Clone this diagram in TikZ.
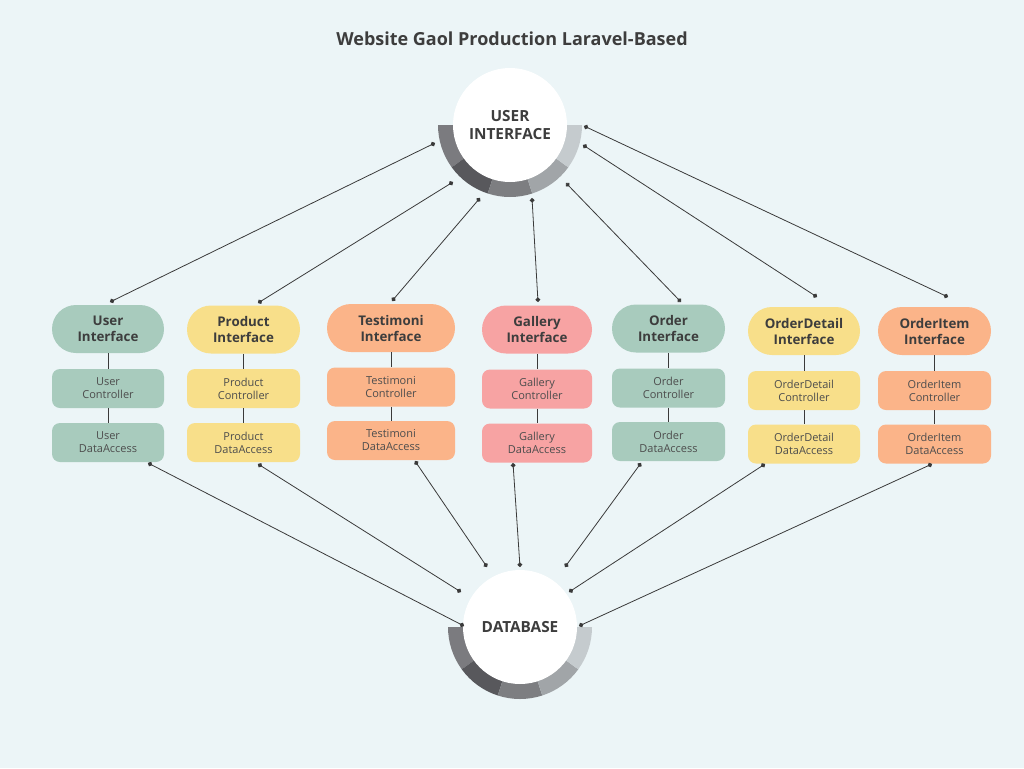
\documentclass[tikz,border=0pt]{standalone}
\usepackage{fontspec}
\setmainfont{Open Sans}
\usetikzlibrary{arrows.meta}
\definecolor{bg}{HTML}{ECF5F7}
\definecolor{txt}{HTML}{3D3D3D}
\definecolor{txtl}{HTML}{4D4D4D}
\definecolor{lc}{HTML}{3A3A3A}
\definecolor{grn}{HTML}{A8CBBD}
\definecolor{yel}{HTML}{F8DF8A}
\definecolor{org}{HTML}{FBB489}
\definecolor{pnk}{HTML}{F7A3A3}
\definecolor{ra}{HTML}{7B7B7F}
\definecolor{rb}{HTML}{58585C}
\definecolor{rc}{HTML}{7D7E81}
\definecolor{rd}{HTML}{A1A5A8}
\definecolor{re}{HTML}{C5CBCE}
\tikzset{
  iface/.style={rectangle, rounded corners=18pt, minimum height=36pt, inner sep=0pt,
    align=center, text=txt, font=\bfseries\fontsize{10}{12}\selectfont},
  layerbox/.style={rectangle, rounded corners=6pt, minimum height=29.25pt, inner sep=0pt,
    align=center, text=txtl, font=\fontsize{8.25}{9.75}\selectfont},
  hub/.style={circle, fill=white, minimum size=85.5pt, inner sep=0pt, align=center,
    text=txt, font=\bfseries\fontsize{11.5}{13.5}\selectfont},
  conn/.style={draw=lc, line width=0.6pt, arrows={Circle[length=3.5pt]-Circle[length=3.5pt]}},
  vlink/.style={draw=lc, line width=0.7pt}
}
\begin{document}
\begin{tikzpicture}[x=0.75pt,y=-0.75pt]
\fill[bg] (0,0) rectangle (1024,768);
\useasboundingbox (0,0) rectangle (1024,768);

\node[font=\bfseries\fontsize{13.5}{16}\selectfont, text=txt] (title) at (512,39) {Website Gaol Production Laravel-Based};

% rings
\foreach \cx/\cy in {510/125, 520/627}{
  \foreach \a/\b/\c in {144/180/ra, 108/144/rb, 72/108/rc, 36/72/rd, 0/36/re}{
    \fill[\c] (\cx,\cy) -- ++(\a:72) arc[start angle=\a, end angle=\b, radius=72] -- cycle;
  }
}
\node[hub] (ui) at (510,125) {USER\\INTERFACE};
\node[hub] (db) at (520,627) {DATABASE};

% columns
\foreach \n/\x/\yi/\yc/\yd/\w/\c/\lab in {
  user/108/329/388.5/442.5/112/grn/User,
  product/243.5/329.5/388.5/442.5/113/yel/Product,
  testi/391/328/387/440.5/128/org/Testimoni,
  gallery/537/329.5/389/443/110/pnk/Gallery,
  order/668.5/328.5/388/441.5/113/grn/Order,
  odetail/804/331/390.5/444/112/yel/OrderDetail,
  oitem/934.5/331/390.5/444/113/org/OrderItem}{
  \node[iface, fill=\c, minimum width=\w*0.75pt] (\n-i) at (\x,\yi) {\lab\\Interface};
  \node[layerbox, fill=\c, minimum width=\w*0.75pt] (\n-c) at (\x,\yc) {\lab\\Controller};
  \node[layerbox, fill=\c, minimum width=\w*0.75pt] (\n-d) at (\x,\yd) {\lab\\DataAccess};
  \draw[vlink] (\n-i.south) -- (\n-c.north);
  \draw[vlink] (\n-c.south) -- (\n-d.north);
}

% connector end points
\foreach \k/\ax/\ay/\bx/\by/\cx/\cy/\dx/\dy in {
  1/435/143/110/302/148/463/464/626,
  2/453/182/258/303/258/464/461/592,
  3/480/198/392/301/415/461/487/567,
  4/532/198/538/302/513/463/520/567,
  5/566/183/681/302/641/463/565/567,
  6/583/145/817/297/765/464/569/592,
  7/584/126/948/297/932/464/579/626}{
  \coordinate (ua\k) at (\ax,\ay);
  \coordinate (ib\k) at (\bx,\by);
  \coordinate (dc\k) at (\cx,\cy);
  \coordinate (bd\k) at (\dx,\dy);
  \draw[conn] (ua\k) -- (ib\k);
  \draw[conn] (dc\k) -- (bd\k);
}
\end{tikzpicture}
\end{document}
